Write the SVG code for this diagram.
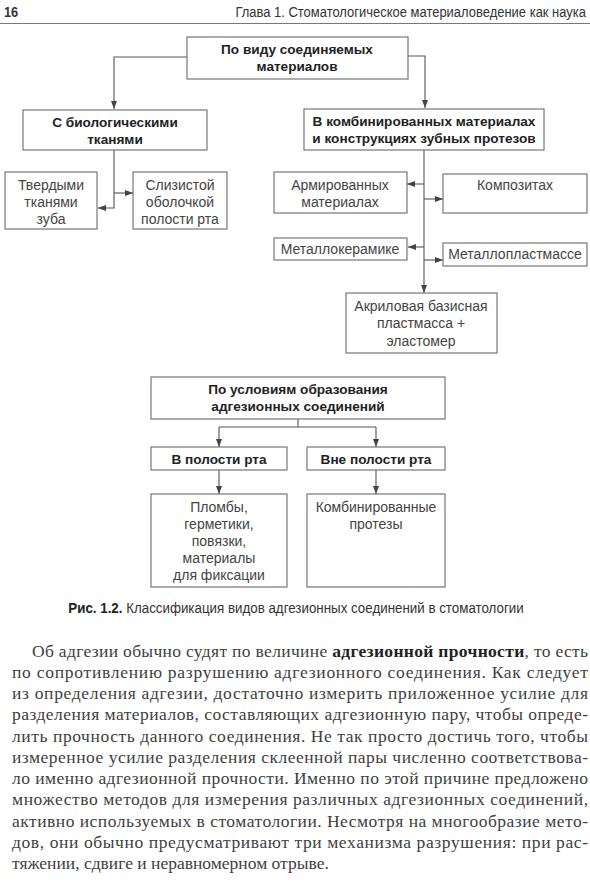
<svg xmlns="http://www.w3.org/2000/svg" width="590" height="890" viewBox="0 0 590 890">
<defs>
<marker id="ah" markerWidth="8" markerHeight="6" refX="8" refY="3" orient="auto" markerUnits="userSpaceOnUse">
<path d="M0,0 L8,3 L0,6 z" fill="#444"/>
</marker>
<style>
.box{fill:#fff;stroke:#777;stroke-width:1.2}
.t{font-family:"Liberation Sans",Arial,sans-serif;font-size:14px;fill:#444;text-anchor:middle}
.b{font-weight:bold;fill:#222;font-size:13.6px}
.c{fill:none;stroke:#555;stroke-width:1.1}
.a{marker-end:url(#ah)}
.body{font-family:"Liberation Serif","Times New Roman",serif;font-size:17.5px;fill:#404040}
.hdr{font-family:"Liberation Sans",Arial,sans-serif;font-size:15px;fill:#333}
</style>
</defs>
<rect width="590" height="890" fill="#fff"/>

<g id="header">
<text class="hdr" transform="translate(4,17) scale(0.85,1)" font-weight="bold" font-size="16">16</text>
<text class="hdr" transform="translate(586,17) scale(0.865,1)" font-size="15.5" text-anchor="end">Глава 1. Стоматологическое материаловедение как наука</text>
<line x1="0" y1="23.5" x2="590" y2="23.5" stroke="#777" stroke-width="1"/>
</g>

<g id="connectors">
<path class="c a" d="M187,57 H114 V109"/>
<path class="c a" d="M408,56 H425 V108"/>
<path class="c a" d="M114,150 V208 H98"/>
<path class="c a" d="M114,193 H133"/>
<path class="c a" d="M424,150 V293"/>
<path class="c a" d="M424,184 H407"/>
<path class="c a" d="M424,199 H443"/>
<path class="c a" d="M424,247 H408"/>
<path class="c a" d="M424,260 H443"/>
<path class="c" d="M298,419 V427 M219,427 H376"/>
<path class="c a" d="M219,427 V447"/>
<path class="c a" d="M376,427 V447"/>
<path class="c a" d="M219,470 V494"/>
<path class="c a" d="M376,470 V494"/>
</g>

<g id="n_top">
<rect class="box" x="187" y="37" width="221" height="42"/>
<text class="t b" x="297" y="54">По виду соединяемых</text>
<text class="t b" x="297" y="71">материалов</text>
</g>
<g id="n_bio">
<rect class="box" x="23" y="110" width="184" height="40"/>
<text class="t b" x="115" y="127">С биологическими</text>
<text class="t b" x="115" y="144">тканями</text>
</g>
<g id="n_comb">
<rect class="box" x="304" y="109" width="240" height="41"/>
<text class="t b" x="424" y="126">В комбинированных материалах</text>
<text class="t b" x="424" y="143">и конструкциях зубных протезов</text>
</g>
<g id="n_hard">
<rect class="box" x="5" y="172" width="92" height="57"/>
<text class="t" x="51" y="190">Твердыми</text>
<text class="t" x="51" y="207">тканями</text>
<text class="t" x="51" y="224">зуба</text>
</g>
<g id="n_mucosa">
<rect class="box" x="133" y="172" width="94" height="57"/>
<text class="t" x="180" y="190">Слизистой</text>
<text class="t" x="180" y="207">оболочкой</text>
<text class="t" x="180" y="224">полости рта</text>
</g>
<g id="n_arm">
<rect class="box" x="274" y="172" width="133" height="41"/>
<text class="t" x="340" y="190">Армированных</text>
<text class="t" x="340" y="207">материалах</text>
</g>
<g id="n_comp">
<rect class="box" x="443" y="174" width="144" height="39"/>
<text class="t" x="515" y="190">Композитах</text>
</g>
<g id="n_mk">
<rect class="box" x="274" y="238" width="133" height="22"/>
<text class="t" x="340" y="254">Металлокерамике</text>
</g>
<g id="n_mp">
<rect class="box" x="443" y="243" width="144" height="23"/>
<text class="t" x="515" y="259">Металлопластмассе</text>
</g>
<g id="n_acryl">
<rect class="box" x="346" y="293" width="151" height="60"/>
<text class="t" x="421" y="311">Акриловая базисная</text>
<text class="t" x="421" y="328">пластмасса +</text>
<text class="t" x="421" y="346">эластомер</text>
</g>

<g id="n_cond">
<rect class="box" x="151" y="377" width="294" height="42"/>
<text class="t b" x="298" y="394">По условиям образования</text>
<text class="t b" x="298" y="411">адгезионных соединений</text>
</g>
<g id="n_in">
<rect class="box" x="151" y="447" width="136" height="23"/>
<text class="t b" x="219" y="464">В полости рта</text>
</g>
<g id="n_out">
<rect class="box" x="307" y="447" width="138" height="23"/>
<text class="t b" x="376" y="464">Вне полости рта</text>
</g>
<g id="n_in_list">
<rect class="box" x="151" y="494" width="136" height="93"/>
<text class="t" x="219" y="512">Пломбы,</text>
<text class="t" x="219" y="529">герметики,</text>
<text class="t" x="219" y="546">повязки,</text>
<text class="t" x="219" y="563">материалы</text>
<text class="t" x="219" y="580">для фиксации</text>
</g>
<g id="n_out_list">
<rect class="box" x="307" y="494" width="138" height="93"/>
<text class="t" x="376" y="512">Комбинированные</text>
<text class="t" x="376" y="529">протезы</text>
</g>

<g id="caption">
<text class="hdr" transform="translate(296,613) scale(0.89,1)" font-size="14.5" text-anchor="middle"><tspan font-weight="bold" fill="#222">Рис. 1.2.</tspan> Классификация видов адгезионных соединений в стоматологии</text>
</g>

<g id="body" class="body">
<text x="32" y="657" textLength="556" lengthAdjust="spacing">Об адгезии обычно судят по величине <tspan font-weight="bold" fill="#222">адгезионной прочности</tspan>, то есть</text>
<text x="12" y="678" textLength="576" lengthAdjust="spacing">по сопротивлению разрушению адгезионного соединения. Как следует</text>
<text x="12" y="699" textLength="576" lengthAdjust="spacing">из определения адгезии, достаточно измерить приложенное усилие для</text>
<text x="12" y="720" textLength="576" lengthAdjust="spacing">разделения материалов, составляющих адгезионную пару, чтобы опреде-</text>
<text x="12" y="742" textLength="576" lengthAdjust="spacing">лить прочность данного соединения. Не так просто достичь того, чтобы</text>
<text x="12" y="763" textLength="576" lengthAdjust="spacing">измеренное усилие разделения склеенной пары численно соответствова-</text>
<text x="12" y="784" textLength="576" lengthAdjust="spacing">ло именно адгезионной прочности. Именно по этой причине предложено</text>
<text x="12" y="805" textLength="576" lengthAdjust="spacing">множество методов для измерения различных адгезионных соединений,</text>
<text x="12" y="827" textLength="576" lengthAdjust="spacing">активно используемых в стоматологии. Несмотря на многообразие мето-</text>
<text x="12" y="848" textLength="576" lengthAdjust="spacing">дов, они обычно предусматривают три механизма разрушения: при рас-</text>
<text x="12" y="869">тяжении, сдвиге и неравномерном отрыве.</text>
</g>
</svg>
